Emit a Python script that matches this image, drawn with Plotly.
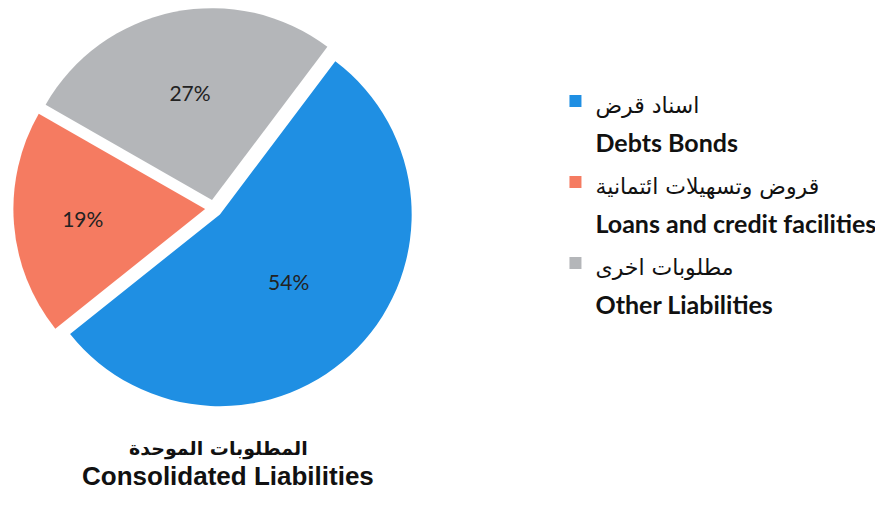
import plotly.graph_objects as go

labels_ar = ["اسناد قرض", "قروض وتسهيلات ائتمانية", "مطلوبات اخرى"]
labels_en = ["Debts Bonds", "Loans and credit facilities", "Other Liabilities"]
shares = [54, 19, 27]
colors = ["#1f8fe3", "#f57b61", "#b4b6b9"]

legend_names = [
    f"<span style='font-size:22px'>{ar}</span><br>"
    f"<span style='font-family:Lato;font-size:25px'><b>{en}</b></span>"
    for ar, en in zip(labels_ar, labels_en)
]

fig = go.Figure(
    go.Pie(
        labels=legend_names,
        values=shares,
        sort=False,
        direction="clockwise",
        rotation=37,
        pull=[0.045, 0.045, 0.045],
        marker=dict(colors=colors, line=dict(width=0)),
        texttemplate="%{value}%",
        textposition="inside",
        insidetextorientation="horizontal",
        textfont=dict(family="Lato", size=21, color="#222222"),
        domain=dict(x=[0.005, 0.461], y=[0.208, 1.0]),
        hoverinfo="skip",
    )
)

fig.update_layout(
    width=883,
    height=506,
    margin=dict(l=0, r=0, t=0, b=0),
    paper_bgcolor="white",
    plot_bgcolor="white",
    showlegend=True,
    legend=dict(
        x=0.62,
        y=0.8675,
        xanchor="left",
        yanchor="top",
        valign="top",
        font=dict(family="DejaVu Sans", size=30, color="#111111"),
        bgcolor="rgba(0,0,0,0)",
    ),
    annotations=[
        dict(
            text="<b>المطلوبات الموحدة</b>",
            x=0.238, y=0.129, xref="paper", yref="paper",
            showarrow=False, xanchor="center", yanchor="middle",
            font=dict(family="DejaVu Sans", size=19, color="#111111"),
        ),
        dict(
            text="<b>Consolidated Liabilities</b>",
            x=0.2495, y=0.075, xref="paper", yref="paper",
            showarrow=False, xanchor="center", yanchor="middle",
            font=dict(family="Liberation Sans", size=26, color="#111111"),
        ),
    ],
)

fig.write_html("out.html")
